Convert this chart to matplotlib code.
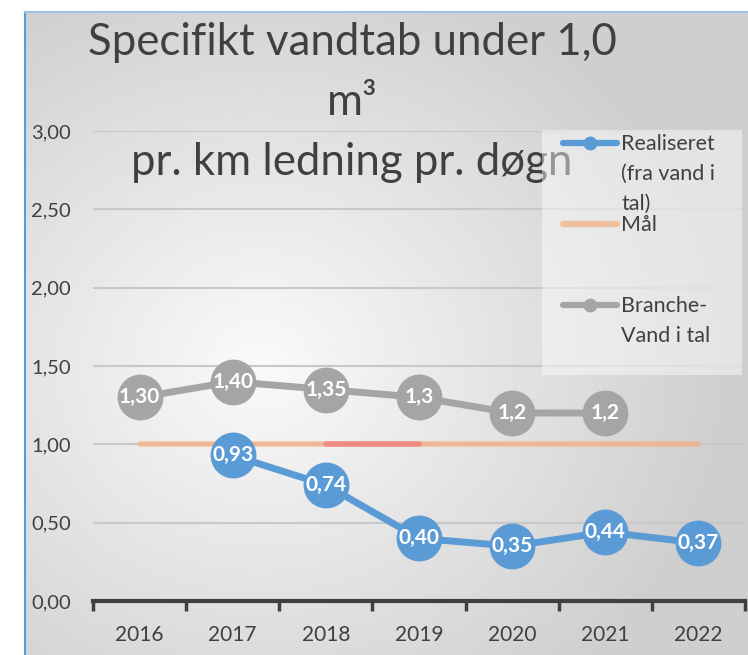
import numpy as np
import matplotlib.pyplot as plt
from matplotlib.lines import Line2D
from matplotlib.patches import Rectangle

plt.rcParams['font.family'] = ['Lato', 'DejaVu Sans']

years = ['2016', '2017', '2018', '2019', '2020', '2021', '2022']
realiseret = [np.nan, 0.93, 0.74, 0.40, 0.35, 0.44, 0.37]
realiseret_lbl = ['', '0,93', '0,74', '0,40', '0,35', '0,44', '0,37']
maal = [1.0, 1.0, 1.0, 1.0, 1.0, 1.0, 1.0]
maal_hl = [np.nan, np.nan, 1.0, 1.0, np.nan, np.nan, np.nan]
branche = [1.30, 1.40, 1.35, 1.3, 1.2, 1.2, np.nan]
branche_lbl = ['1,30', '1,40', '1,35', '1,3', '1,2', '1,2', '']
yticks = [0, 0.5, 1.0, 1.5, 2.0, 2.5, 3.0]

W, H = 748, 655
fig = plt.figure(figsize=(W / 100, H / 100), dpi=100)

# baggrund med gradient
bg = fig.add_axes([25 / W, 0, 1 - 25 / W, 1 - 12 / H], zorder=-5)
gx, gy = np.meshgrid(np.linspace(-1, 1, 300), np.linspace(-1, 1, 300))
r = np.sqrt((gx + 0.35) ** 2 + (gy - 0.1) ** 2)
bg.imshow(0.98 - 0.17 * np.clip(r / 1.3, 0, 1), cmap='gray', vmin=0, vmax=1,
          extent=[0, 1, 0, 1], aspect='auto')
bg.axis('off')
fig.add_artist(Line2D([25 / W, 25 / W], [0, 1 - 12 / H], color='#5b9bd5', lw=1.5))
fig.add_artist(Line2D([25 / W, 1], [1 - 12 / H, 1 - 12 / H], color='#9dc3e6', lw=1.5))

ax = fig.add_axes([93 / W, 1 - 601 / H, (745 - 93) / W, (601 - 131) / H])
ax.patch.set_alpha(0)
x = np.arange(len(years))

ax.plot(x, maal, color='#f4b183', lw=4, alpha=0.75, solid_capstyle='round', zorder=2)
ax.plot(x, maal_hl, color='#f08080', lw=4, alpha=0.8, solid_capstyle='round', zorder=2)
ax.plot(x, branche, color='#a5a5a5', lw=5, marker='o', ms=32, zorder=3)
ax.plot(x, realiseret, color='#5b9bd5', lw=5, marker='o', ms=32, zorder=4)

for xi, v, t in zip(x, branche, branche_lbl):
    if t:
        ax.text(xi, v, t, color='white', fontsize=15, fontweight='bold',
                ha='center', va='center', zorder=5)
for xi, v, t in zip(x, realiseret, realiseret_lbl):
    if t:
        ax.text(xi, v, t, color='white', fontsize=15, fontweight='bold',
                ha='center', va='center', zorder=5)

ax.set_xlim(-0.5, len(years) - 0.5)
ax.set_ylim(0, 3)
ax.set_yticks(yticks)
ax.set_yticklabels([f'{t:.2f}'.replace('.', ',') for t in yticks], fontsize=14.5, color='#404040')
ax.set_xticks(x)
ax.set_xticklabels(years, fontsize=15, color='#404040')
ax.set_xticks(np.arange(-0.5, len(years)), minor=True)
ax.tick_params(axis='x', which='major', length=0, pad=17)
ax.tick_params(axis='x', which='minor', length=7, width=2.5, color='#404040', direction='out')
ax.tick_params(axis='y', length=0, pad=16)
ax.yaxis.grid(True, color='#c8c8c8', lw=1.5)
ax.set_axisbelow(True)
for s in ['top', 'right', 'left']:
    ax.spines[s].set_visible(False)
ax.spines['bottom'].set_color('#404040')
ax.spines['bottom'].set_linewidth(3)

fig.text(352 / W, 1 - 22 / H, 'Specifikt vandtab under 1,0\nm³\npr. km ledning pr. døgn',
         ha='center', va='top', fontsize=31.5, color='#404040', linespacing=1.58, zorder=1)

# legende
fig.add_artist(Rectangle((542 / W, 1 - 375 / H), 200 / W, 245 / H, transform=fig.transFigure,
                         facecolor='white', alpha=0.45, edgecolor='none', zorder=10))
items = [('Realiseret\n(fra vand i\ntal)', '#5b9bd5', True, 143),
         ('Mål', '#f4b183', False, 224),
         ('Branche-\nVand i tal', '#a5a5a5', True, 305)]
for lbl, c, mk, yy in items:
    fy = 1 - yy / H
    fig.add_artist(Line2D([563 / W, 617 / W], [fy, fy], color=c, lw=4.5,
                          solid_capstyle='round', alpha=1 if mk else 0.75, zorder=11))
    if mk:
        fig.add_artist(Line2D([590 / W], [fy], marker='o', ms=9, color=c, zorder=12))
    fig.text(621 / W, fy + 9 / H, lbl, ha='left', va='top', fontsize=15.5,
             color='#404040', linespacing=1.62, zorder=12)

fig.savefig('out.png', dpi=100)
